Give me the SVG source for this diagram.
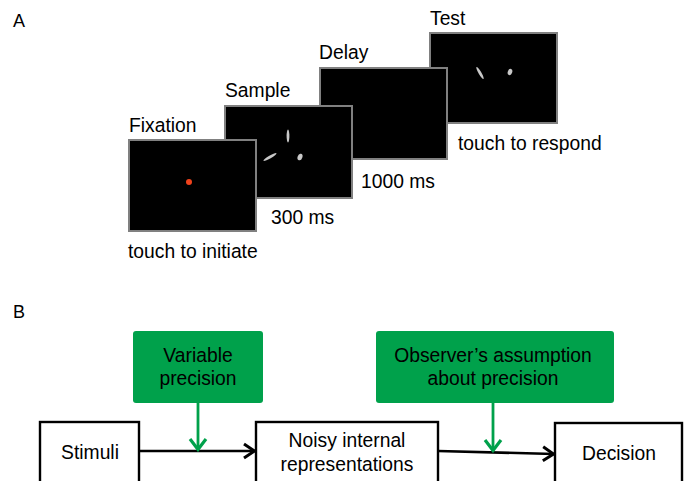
<svg xmlns="http://www.w3.org/2000/svg" width="688" height="481" viewBox="0 0 688 481">
<style>
text{font-family:"Liberation Sans",Arial,sans-serif;font-size:19.3px;fill:#000}
.scr{fill:#000;stroke:#808080;stroke-width:2}
.stim{fill:#c8c8c8}
.box{fill:#fff;stroke:#000;stroke-width:2.4}
.gbox{fill:#00a14b}
.conn{stroke:#000;stroke-width:2.6;fill:none}
.gconn{stroke:#00a14b;stroke-width:2.8;fill:none}
.c{text-anchor:middle}
</style>
<defs>
<marker id="ah" markerUnits="userSpaceOnUse" viewBox="0 0 14 18" refX="12.5" refY="9" markerWidth="14" markerHeight="18" orient="auto">
<path d="M1.5,2 L12,9 L1.5,16" fill="none" stroke="#000" stroke-width="3"/>
</marker>
<marker id="gah" markerUnits="userSpaceOnUse" viewBox="0 0 14 20" refX="12.5" refY="10" markerWidth="14" markerHeight="20" orient="auto">
<path d="M1.5,2 L12,10 L1.5,18" fill="none" stroke="#00a14b" stroke-width="3.2"/>
</marker>
</defs>
<text x="13" y="27" style="font-size:18px">A</text>
<text x="13" y="318" style="font-size:18px">B</text>
<g id="test">
<rect class="scr" x="430" y="33" width="127" height="90"/>
<ellipse class="stim" cx="480" cy="73" rx="1.4" ry="7" transform="rotate(-30 480 73)"/>
<ellipse class="stim" cx="510" cy="72" rx="2.2" ry="3.2" transform="rotate(20 510 72)"/>
<text x="430" y="25">Test</text>
<text x="458" y="150">touch to respond</text>
</g>
<g id="delay">
<rect class="scr" x="320" y="68" width="127" height="91"/>
<text x="319" y="59">Delay</text>
<text x="361" y="188">1000 ms</text>
</g>
<g id="sample">
<rect class="scr" x="225" y="106" width="127" height="92"/>
<ellipse class="stim" cx="288" cy="136" rx="1.4" ry="6.5"/>
<ellipse class="stim" cx="270" cy="157" rx="1.4" ry="7.5" transform="rotate(60 270 157)"/>
<ellipse class="stim" cx="300" cy="157" rx="2.4" ry="3.4" transform="rotate(20 300 157)"/>
<text x="225" y="97">Sample</text>
<text x="271" y="224">300 ms</text>
</g>
<g id="fixation">
<rect class="scr" x="129" y="140" width="127" height="91"/>
<circle cx="189" cy="182" r="3" fill="#f0421c"/>
<text x="129" y="132">Fixation</text>
<text x="128" y="258">touch to initiate</text>
</g>
<g id="variable-precision">
<rect class="gbox" x="133" y="331" width="130" height="72" rx="3"/>
<text class="c" x="198" y="362">Variable</text>
<text class="c" x="198" y="385">precision</text>
</g>
<g id="observer-assumption">
<rect class="gbox" x="376" y="331" width="238" height="72" rx="3"/>
<text class="c" x="493" y="362">Observer’s assumption</text>
<text class="c" x="493" y="385">about precision</text>
</g>
<g id="stimuli">
<rect class="box" x="40" y="422" width="99" height="70"/>
<text class="c" x="90" y="459">Stimuli</text>
</g>
<g id="noisy">
<rect class="box" x="256" y="422" width="182" height="70"/>
<text class="c" x="347" y="447">Noisy internal</text>
<text class="c" x="347" y="471">representations</text>
</g>
<g id="decision">
<rect class="box" x="555" y="423" width="127" height="70"/>
<text class="c" x="619" y="460">Decision</text>
</g>
<g id="connectors">
<line class="conn" x1="139" y1="451" x2="255" y2="451" marker-end="url(#ah)"/>
<line class="conn" x1="438" y1="451" x2="554" y2="454" marker-end="url(#ah)"/>
<line class="gconn" x1="198" y1="403" x2="198" y2="450" marker-end="url(#gah)"/>
<line class="gconn" x1="493" y1="403" x2="493" y2="451" marker-end="url(#gah)"/>
</g>
</svg>
